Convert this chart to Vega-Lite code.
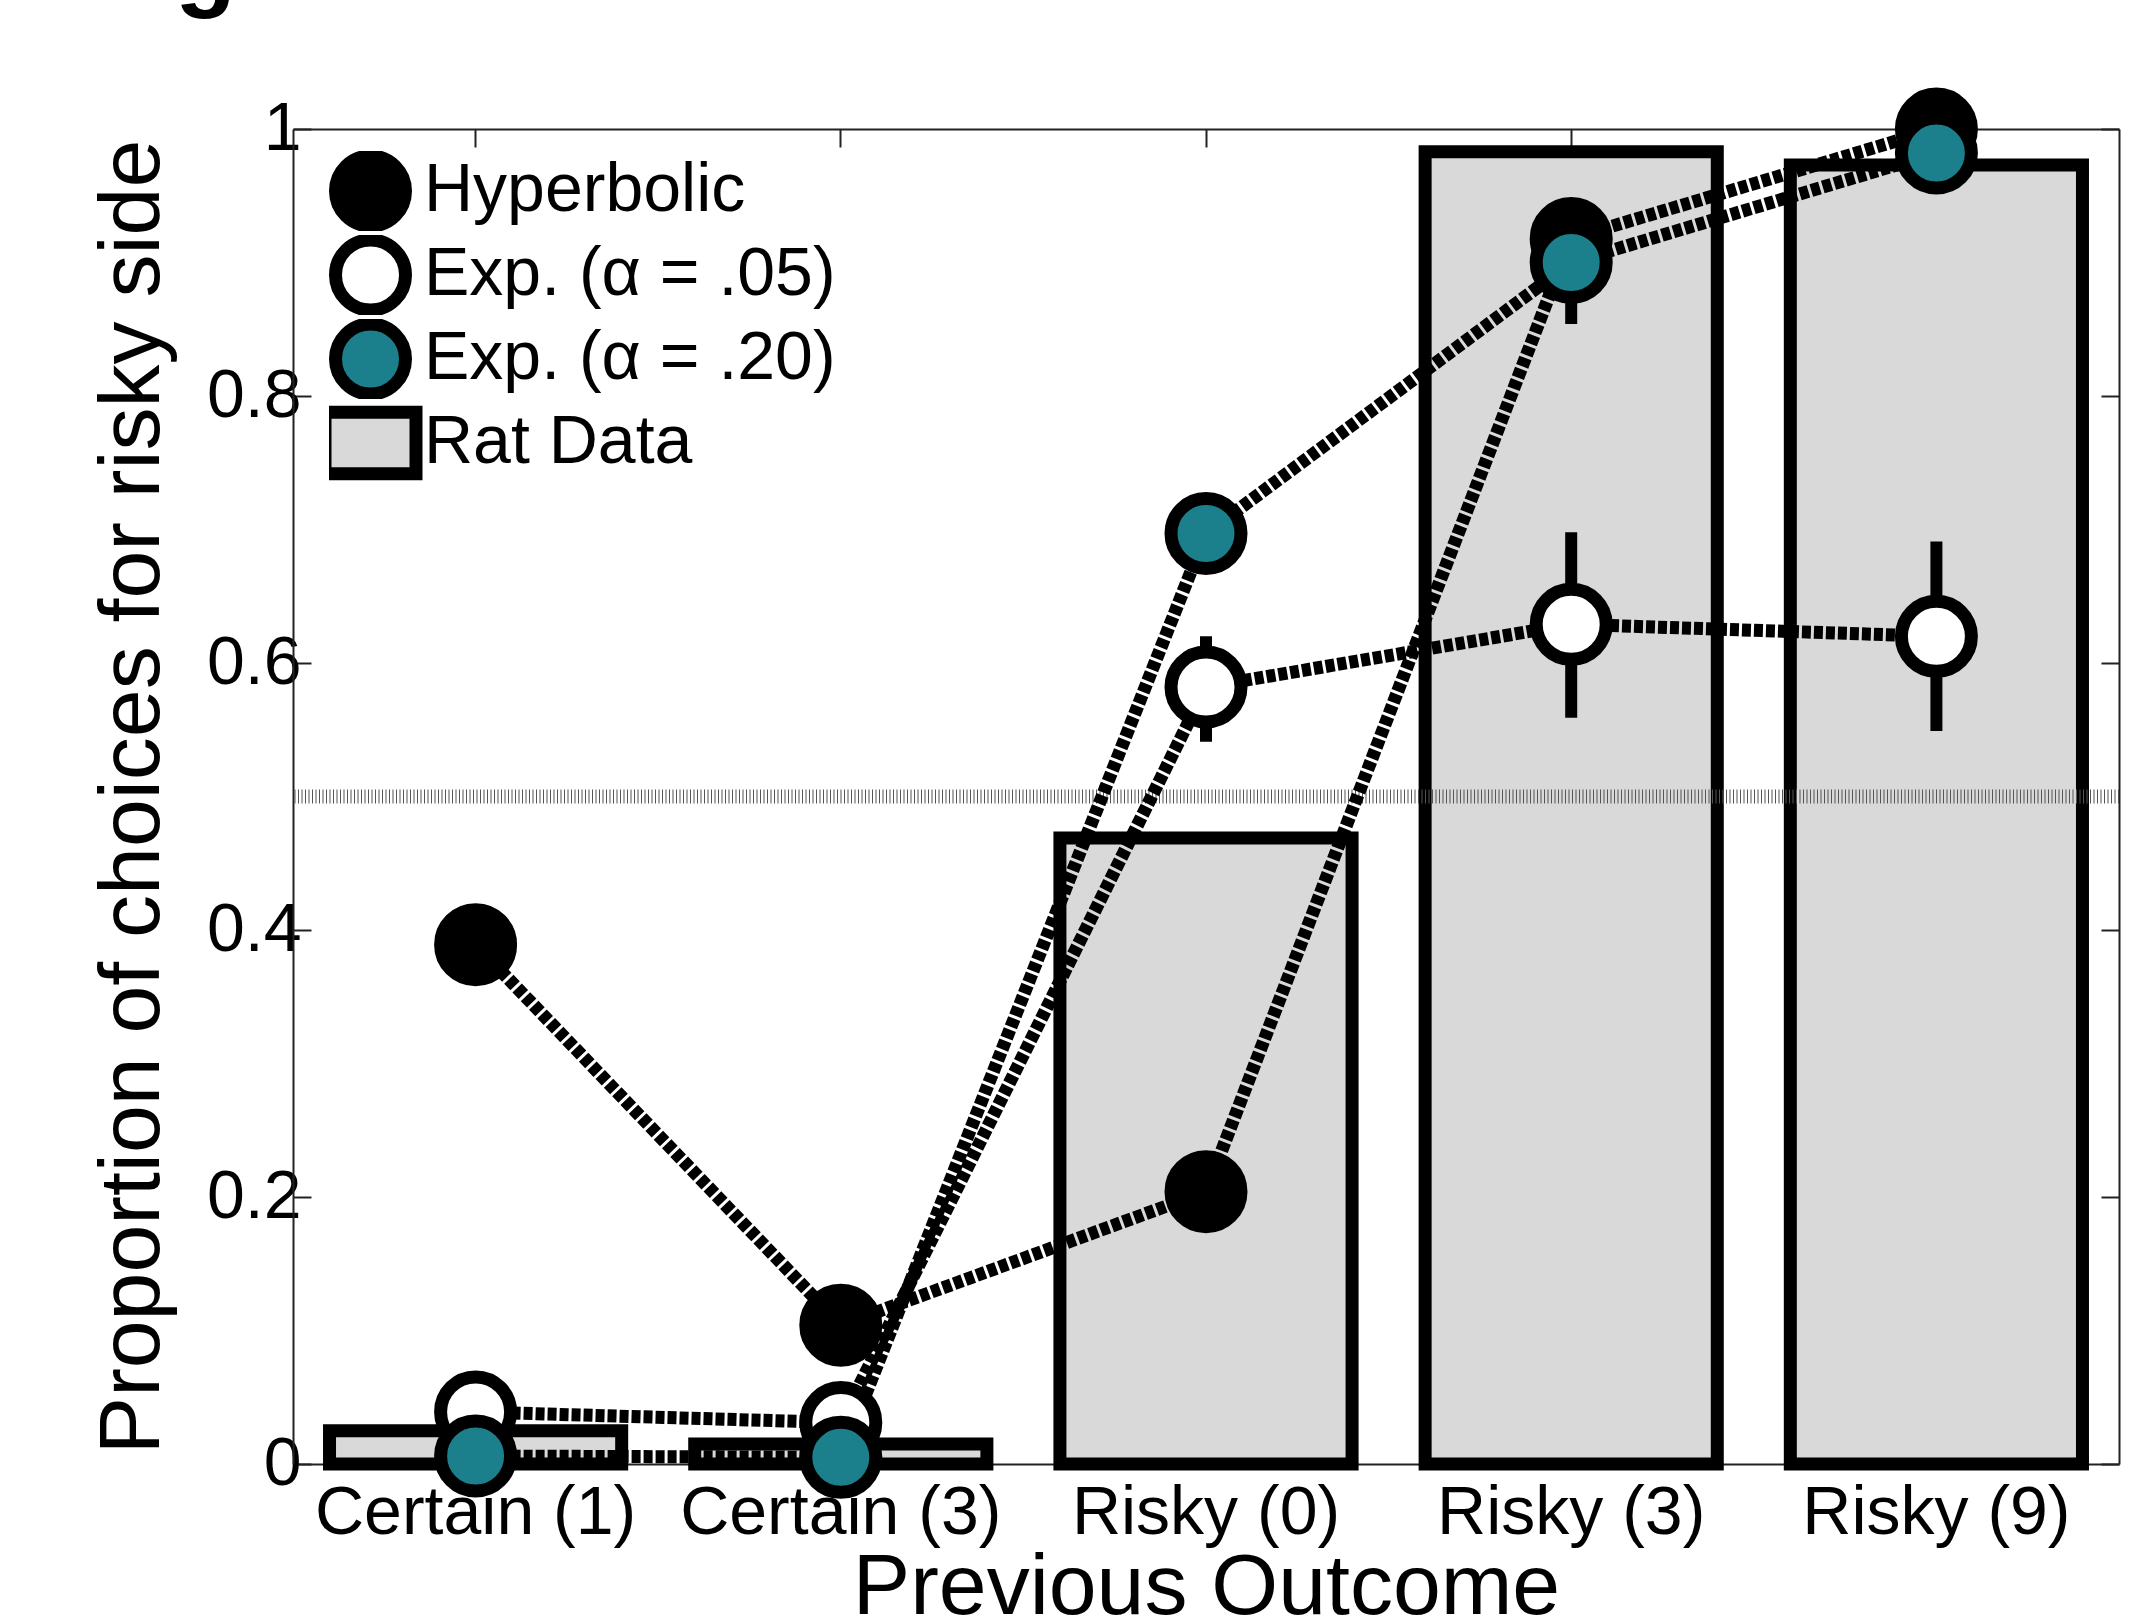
{
  "$schema": "https://vega.github.io/schema/vega-lite/v6.json",
  "width": 1826,
  "height": 1335,
  "autosize": {"type": "none"},
  "padding": {"left": 293, "top": 129, "right": 20, "bottom": 156},
  "background": "white",
  "title": {"text": "g", "anchor": "start", "frame": "group", "fontSize": 100, "fontWeight": "bold", "font": "Liberation Sans", "dx": -118, "dy": 30, "offset": 0, "baseline": "alphabetic", "color": "black"},
  "config": {
    "view": {"stroke": null},
    "font": "Liberation Sans",
    "axis": {"labelFont": "Liberation Sans", "titleFont": "Liberation Sans", "labelColor": "black", "titleColor": "black", "domainColor": "#222", "domainWidth": 2, "tickColor": "#222", "tickWidth": 2, "tickSize": -18, "grid": false, "labelFontSize": 68, "titleFontSize": 86, "titleFontWeight": "normal", "labelLimit": 0},
    "legend": {"labelFont": "Liberation Sans", "labelFontSize": 68, "labelColor": "black", "labelLimit": 0, "symbolStrokeColor": "black", "symbolStrokeWidth": 13, "symbolSize": 4900, "symbolOpacity": 1, "labelOffset": 12, "rowPadding": 4, "clipHeight": 80, "padding": 0}
  },
  "datasets": {
    "bars": [
      {"series": "Rat Data", "cat": "Certain (1)", "value": 0.025},
      {"series": "Rat Data", "cat": "Certain (3)", "value": 0.015},
      {"series": "Rat Data", "cat": "Risky (0)", "value": 0.469},
      {"series": "Rat Data", "cat": "Risky (3)", "value": 0.983},
      {"series": "Rat Data", "cat": "Risky (9)", "value": 0.973}
    ],
    "model": [
      {"series": "Hyperbolic", "cat": "Certain (1)", "value": 0.389},
      {"series": "Hyperbolic", "cat": "Certain (3)", "value": 0.104},
      {"series": "Hyperbolic", "cat": "Risky (0)", "value": 0.204},
      {"series": "Hyperbolic", "cat": "Risky (3)", "value": 0.918},
      {"series": "Hyperbolic", "cat": "Risky (9)", "value": 1.0},
      {"series": "Exp. (α = .05)", "cat": "Certain (1)", "value": 0.039},
      {"series": "Exp. (α = .05)", "cat": "Certain (3)", "value": 0.031},
      {"series": "Exp. (α = .05)", "cat": "Risky (0)", "value": 0.582, "lo": 0.541, "hi": 0.62},
      {"series": "Exp. (α = .05)", "cat": "Risky (3)", "value": 0.629, "lo": 0.559, "hi": 0.698},
      {"series": "Exp. (α = .05)", "cat": "Risky (9)", "value": 0.62, "lo": 0.549, "hi": 0.691},
      {"series": "Exp. (α = .20)", "cat": "Certain (1)", "value": 0.006},
      {"series": "Exp. (α = .20)", "cat": "Certain (3)", "value": 0.005},
      {"series": "Exp. (α = .20)", "cat": "Risky (0)", "value": 0.697},
      {"series": "Exp. (α = .20)", "cat": "Risky (3)", "value": 0.9, "lo": 0.854, "hi": 0.946},
      {"series": "Exp. (α = .20)", "cat": "Risky (9)", "value": 0.982}
    ],
    "ref": [{"level": 0.5}]
  },
  "layer": [
    {
      "data": {"name": "bars"},
      "mark": {"type": "bar", "stroke": "black", "strokeWidth": 13},
      "encoding": {
        "x": {"field": "cat", "type": "nominal", "sort": null,
              "scale": {"domain": ["Certain (1)", "Certain (3)", "Risky (0)", "Risky (3)", "Risky (9)"], "paddingInner": 0.2, "paddingOuter": 0.1},
              "axis": {"orient": "bottom", "labelAngle": 0, "labelPadding": 33, "title": "Previous Outcome", "titlePadding": -2}},
        "y": {"field": "value", "type": "quantitative",
              "scale": {"domain": [0, 1], "nice": false, "zero": true},
              "axis": {"orient": "left", "values": [0, 0.2, 0.4, 0.6, 0.8, 1], "format": "~g", "labelPadding": 10, "title": "Proportion of choices for risky side", "titlePadding": 30}},
        "fill": {"field": "series", "type": "nominal",
                 "scale": {"domain": ["Hyperbolic", "Exp. (α = .05)", "Exp. (α = .20)", "Rat Data"], "range": ["black", "white", "#1b7f8c", "#d9d9d9"]},
                 "legend": {"title": null, "orient": "none", "legendX": 36, "legendY": 22, "symbolStrokeColor": "black", "symbolStrokeWidth": 13, "clipHeight": 80,
                            "encode": {"symbols": {"update": {"stroke": {"value": "black"}, "strokeWidth": {"value": 13}, "opacity": {"value": 1}}}}}}
      }
    },
    {
      "data": {"name": "ref"},
      "mark": {"type": "rule", "stroke": "#555555", "strokeWidth": 14, "strokeDash": [1, 2.5]},
      "encoding": {"y": {"field": "level", "type": "quantitative", "axis": null}}
    },
    {
      "data": {"name": "model"},
      "mark": {"type": "line", "stroke": "black", "strokeWidth": 13, "strokeDash": [9, 3], "strokeCap": "butt"},
      "encoding": {
        "x": {"field": "cat", "type": "nominal", "sort": null, "axis": {"orient": "top", "labels": false, "title": null}},
        "y": {"field": "value", "type": "quantitative", "axis": {"orient": "right", "values": [0, 0.2, 0.4, 0.6, 0.8, 1], "labels": false, "title": null}},
        "detail": {"field": "series", "type": "nominal"}
      }
    },
    {
      "data": {"name": "model"},
      "transform": [{"filter": "isValid(datum.lo)"}],
      "mark": {"type": "rule", "stroke": "black", "strokeWidth": 12},
      "encoding": {
        "x": {"field": "cat", "type": "nominal", "sort": null, "axis": null},
        "y": {"field": "lo", "type": "quantitative", "axis": null},
        "y2": {"field": "hi"}
      }
    },
    {
      "data": {"name": "model"},
      "mark": {"type": "point", "filled": true, "stroke": "black", "strokeWidth": 13, "size": 4900, "opacity": 1},
      "encoding": {
        "x": {"field": "cat", "type": "nominal", "sort": null, "axis": null},
        "y": {"field": "value", "type": "quantitative", "axis": null},
        "fill": {"field": "series", "type": "nominal"},
        "shape": {"field": "series", "type": "nominal",
                  "scale": {"domain": ["Hyperbolic", "Exp. (α = .05)", "Exp. (α = .20)", "Rat Data"], "range": ["circle", "circle", "circle", "M-1.3,-0.88H1.3V0.88H-1.3Z"]},
                  "legend": {"title": null, "orient": "none", "legendX": 36, "legendY": 22, "symbolStrokeColor": "black", "symbolStrokeWidth": 13, "clipHeight": 80,
                             "encode": {"symbols": {"update": {"stroke": {"value": "black"}, "strokeWidth": {"value": 13}, "opacity": {"value": 1}}}}}}
      }
    }
  ],
  "resolve": {"scale": {"fill": "shared", "shape": "shared"}, "axis": {"x": "independent", "y": "independent"}}
}
